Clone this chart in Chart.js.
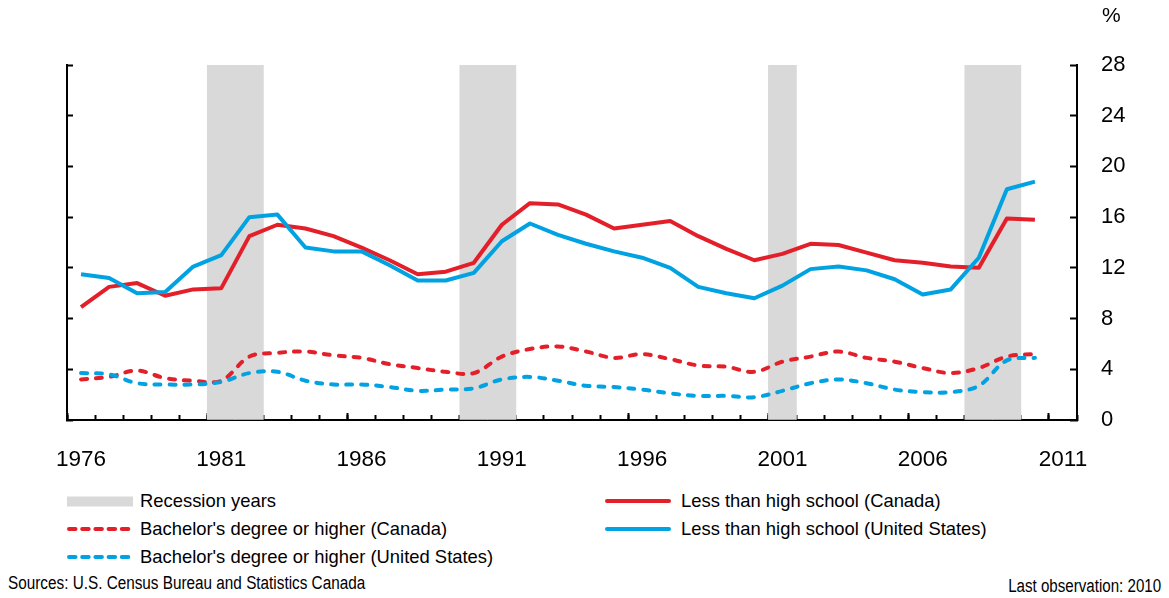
<!DOCTYPE html>
<html><head><meta charset="utf-8">
<script src="https://cdn.jsdelivr.net/npm/chart.js@4/dist/chart.umd.min.js"></script>
<style>
html,body{margin:0;padding:0;background:#fff;}
body{width:1169px;height:598px;position:relative;overflow:hidden;font-family:"Liberation Sans",Arial,sans-serif;color:#000;}
#wrap{position:absolute;left:0;top:0;width:1169px;height:480px;}
#pct{position:absolute;left:1102px;top:2px;font-size:21px;line-height:25px;}
.lg{position:absolute;height:20px;display:flex;align-items:center;font-size:18.4px;white-space:nowrap;}
.lg svg{flex:none;}
#src{position:absolute;left:8px;top:572px;font-size:18px;line-height:22px;white-space:nowrap;transform:scaleX(0.85);transform-origin:left center;}
#last{position:absolute;right:8px;top:575px;font-size:18px;line-height:22px;white-space:nowrap;transform:scaleX(0.84);transform-origin:right center;}
</style></head>
<body>
<div id="wrap"><canvas id="c" width="1169" height="480"></canvas></div>
<div id="pct">%</div>
<div id="legend"></div>
<div id="src">Sources: U.S. Census Bureau and Statistics Canada</div>
<div id="last">Last observation: 2010</div>
<script>
const years = ['1976','1977','1978','1979','1980','1981','1982','1983','1984','1985','1986','1987','1988','1989','1990','1991','1992','1993','1994','1995','1996','1997','1998','1999','2000','2001','2002','2003','2004','2005','2006','2007','2008','2009','2010','2011'];
const labeledYears = ['1976','1981','1986','1991','1996','2001','2006','2011'];
const recessionYears = ['1981','1982','1990','1991','2001','2008','2009'];
const lessHsCanada = [8.9,10.5,10.8,9.8,10.3,10.4,14.5,15.4,15.1,14.5,13.6,12.6,11.5,11.7,12.4,15.4,17.1,17.0,16.2,15.1,15.4,15.7,14.5,13.5,12.6,13.1,13.9,13.8,13.2,12.6,12.4,12.1,12.0,15.9,15.8];
const lessHsUS = [11.5,11.2,10.0,10.1,12.1,13.0,16.0,16.2,13.6,13.3,13.3,12.2,11.0,11.0,11.6,14.1,15.5,14.6,13.9,13.3,12.8,12.0,10.5,10.0,9.6,10.6,11.9,12.1,11.8,11.1,9.9,10.3,12.8,18.2,18.8];
const bachCanada = [3.2,3.4,3.9,3.3,3.1,3.1,5.0,5.3,5.4,5.1,4.9,4.4,4.1,3.8,3.7,5.0,5.6,5.8,5.4,4.9,5.2,4.8,4.3,4.2,3.8,4.6,5.0,5.4,4.9,4.6,4.1,3.7,4.1,5.0,5.2];
const bachUS = [3.7,3.6,2.9,2.8,2.8,3.0,3.7,3.8,3.1,2.8,2.8,2.6,2.3,2.4,2.5,3.2,3.4,3.1,2.7,2.6,2.4,2.1,1.9,1.9,1.8,2.3,2.9,3.2,2.9,2.4,2.2,2.2,2.7,4.7,4.9];
const yMin = 0, yMax = 28, yStep = 4;

const RED = '#e3202a', BLUE = '#00a2e1', GRAY = '#d9d9d9';
Chart.defaults.font.family = '"Liberation Sans", Arial, sans-serif';
Chart.defaults.color = '#000';

const recessionData = years.map(y => recessionYears.includes(y) ? yMax : null);

const chart = new Chart(document.getElementById('c'), {
  data: {
    labels: years,
    datasets: [
      {type:'bar', label:'Recession years', data: recessionData, backgroundColor: GRAY, borderWidth:0,
       barPercentage:1, categoryPercentage:1, order:10, yAxisID:'y', xAxisID:'x'},
      {type:'line', label:'Less than high school (Canada)', data: lessHsCanada, borderColor: RED, borderWidth:4,
       pointRadius:0, tension:0, borderJoinStyle:'round', order:2, yAxisID:'y', xAxisID:'x'},
      {type:'line', label:"Bachelor's degree or higher (Canada)", data: bachCanada, borderColor: RED, borderWidth:4,
       borderDash:[6,9], borderCapStyle:'round', pointRadius:0, tension:0.35, order:4, yAxisID:'y', xAxisID:'x'},
      {type:'line', label:'Less than high school (United States)', data: lessHsUS, borderColor: BLUE, borderWidth:4,
       pointRadius:0, tension:0, borderJoinStyle:'round', order:1, yAxisID:'y', xAxisID:'x'},
      {type:'line', label:"Bachelor's degree or higher (United States)", data: bachUS, borderColor: BLUE, borderWidth:4,
       borderDash:[6,9], borderCapStyle:'round', pointRadius:0, tension:0.35, order:3, yAxisID:'y', xAxisID:'x'}
    ]
  },
  options: {
    responsive:false, animation:false,
    layout:{padding:{top:65,left:0,right:0,bottom:0}},
    plugins:{legend:{display:false}, tooltip:{enabled:false}},
    scales:{
      x:{type:'category', position:'bottom', offset:true, weight:1,
         grid:{offset:true, drawOnChartArea:false, tickLength:-5, tickWidth:2, tickColor:'#000'},
         border:{color:'#000', width:2},
         ticks:{autoSkip:false, maxRotation:0, minRotation:0, padding:31, font:{size:22.5},
                callback:(v,i)=> labeledYears.includes(years[i]) ? years[i] : ''},
         afterFit:s=>{s.height=60;}},
      xMajor:{type:'category', position:'bottom', offset:true, weight:0,
         grid:{offset:true, drawOnChartArea:false, tickLength:-7, tickWidth:2,
               tickColor:c => (c.index !== undefined && c.index % 5 === 0) ? '#000' : 'rgba(0,0,0,0)'},
         border:{display:false}, ticks:{display:false},
         afterFit:s=>{s.height=0;}},
      yL:{position:'left', min:yMin, max:yMax,
         ticks:{stepSize:yStep, display:false},
         grid:{drawOnChartArea:false, tickLength:-6, tickWidth:2, tickColor:'#000'},
         border:{color:'#000', width:2},
         afterFit:s=>{s.width=67;}},
      y:{position:'right', min:yMin, max:yMax,
         ticks:{stepSize:yStep, padding:31, font:{size:22}},
         grid:{drawOnChartArea:false, tickLength:-7, tickWidth:2, tickColor:'#000'},
         border:{color:'#000', width:2},
         afterFit:s=>{s.width=92;}}
    }
  }
});

// HTML legend built from the chart's datasets
const legendEl = document.getElementById('legend');
const colX = [67, 605];
const rowY = [491, 519, 547];
chart.data.datasets.forEach((ds, i) => {
  const col = i % 2, row = Math.floor(i / 2);
  const item = document.createElement('div');
  item.className = 'lg';
  item.style.left = colX[col] + 'px';
  item.style.top = rowY[row] + 'px';
  let sym;
  if (ds.type === 'bar') {
    sym = `<svg width="66" height="20"><rect x="0" y="5.5" width="66" height="10" fill="${ds.backgroundColor}"/></svg>`;
  } else {
    const dash = ds.borderDash ? `stroke-dasharray="6.5 6.7" stroke-linecap="round"` : `stroke-linecap="round"`;
    sym = `<svg width="66" height="20"><line x1="2" y1="10" x2="64" y2="10" stroke="${ds.borderColor}" stroke-width="4" ${dash}/></svg>`;
  }
  item.innerHTML = sym + `<span style="margin-left:${col===0?7:10}px">${ds.label}</span>`;
  legendEl.appendChild(item);
});
</script>
</body></html>
